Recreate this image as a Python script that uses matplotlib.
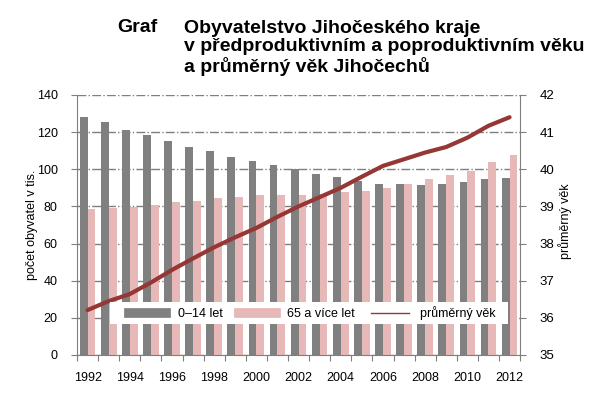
import matplotlib.pyplot as plt
import numpy as np
from matplotlib.lines import Line2D
from matplotlib.patches import Rectangle

plt.rcParams['font.family'] = ['Liberation Sans', 'DejaVu Sans']

roky = list(range(1992, 2013))
deti = [128.2, 125.5, 121.2, 118.5, 115.2, 112.0, 109.8, 106.6, 104.4, 102.3, 100.0,
        97.5, 95.8, 93.7, 92.1, 92.1, 91.5, 92.1, 93.2, 94.8, 95.3]
seniori = [78.6, 79.2, 79.7, 80.8, 82.4, 83.0, 84.6, 85.1, 86.2, 86.2, 86.2,
           86.5, 87.8, 88.3, 90.0, 92.1, 94.8, 96.9, 99.1, 103.9, 107.7]
prumerny_vek = [36.21, 36.45, 36.64, 36.95, 37.29, 37.6, 37.9, 38.17, 38.42, 38.72, 39.0,
                39.25, 39.5, 39.8, 40.09, 40.27, 40.45, 40.6, 40.85, 41.17, 41.4]

c_deti = '#808080'
c_sen = '#e6b8b7'
c_vek = '#953735'

fig = plt.figure(figsize=(6.02, 3.94), dpi=100)
ax = fig.add_axes([0.128, 0.099, 0.736, 0.66])
x = np.arange(len(roky))
w = 0.37
ax.bar(x - w / 2, deti, w, color=c_deti, zorder=2)
ax.bar(x + w / 2, seniori, w, color=c_sen, zorder=2)
ax.set_xlim(-0.5, len(roky) - 0.5)
ax.set_ylim(0, 140)
ax.set_yticks(range(0, 141, 20))
ax.yaxis.grid(True, color='#7f7f7f', linestyle='-.', linewidth=1, zorder=0)
ax.set_axisbelow(True)

# tick marks between categories, labels under every second year
ax.set_xticks(np.arange(-0.5, len(roky), 1))
ax.set_xticklabels([])
ax.set_xticks(x[::2], minor=True)
ax.set_xticklabels([str(r) for r in roky[::2]], minor=True, fontsize=9)
ax.tick_params(axis='x', which='minor', length=0, pad=12)
ax.tick_params(axis='x', which='major', length=4, color='#7f7f7f')
ax.tick_params(axis='y', length=4, color='#7f7f7f', labelsize=9, pad=10)
for s in ['top', 'right']:
    ax.spines[s].set_visible(False)
for s in ['left', 'bottom']:
    ax.spines[s].set_color('#7f7f7f')

ax2 = ax.twinx()
ax2.plot(x, prumerny_vek, color=c_vek, linewidth=3, solid_capstyle='round', zorder=3)
ax2.set_ylim(35, 42)
ax2.set_yticks(range(35, 43))
ax2.tick_params(axis='y', length=4, color='#7f7f7f', labelsize=9.5, pad=10)
for s in ['top', 'left', 'bottom']:
    ax2.spines[s].set_visible(False)
ax2.spines['right'].set_color('#7f7f7f')

fig.text(32 / 602, 1 - 225 / 394, 'počet obyvatel v tis.', fontsize=9, rotation=90,
         ha='center', va='center')
fig.text(565 / 602, 1 - 221 / 394, 'průměrný věk', fontsize=9, rotation=90,
         ha='center', va='center')

# white box behind the legend
ax2.add_patch(Rectangle((0.074, 0.119), 0.898, 0.085, transform=ax2.transAxes,
                        facecolor='white', edgecolor='none', zorder=4))
handles = [Line2D([], [], color=c_deti, linewidth=7),
           Line2D([], [], color=c_sen, linewidth=7),
           Line2D([], [], color=c_vek, linewidth=1)]
leg = ax2.legend(handles, ['0–14 let', '65 a více let', 'průměrný věk'],
                 ncol=3, loc='center left', bbox_to_anchor=(0.1167, 0.1615),
                 fontsize=9, frameon=False, handlelength=3.0, borderaxespad=0,
                 borderpad=0, handletextpad=0.9, columnspacing=1.3)
leg.set_zorder(5)

fig.text(117 / 602, 1 - 27 / 394, 'Graf', fontsize=14, fontweight='bold', va='center')
fig.text(184 / 602, 1 - 48 / 394,
         'Obyvatelstvo Jihočeského kraje\nv předproduktivním a poproduktivním věku\na průměrný věk Jihočechů',
         fontsize=14, fontweight='bold', va='center', linespacing=1.1)

fig.savefig('out.png', dpi=100)
